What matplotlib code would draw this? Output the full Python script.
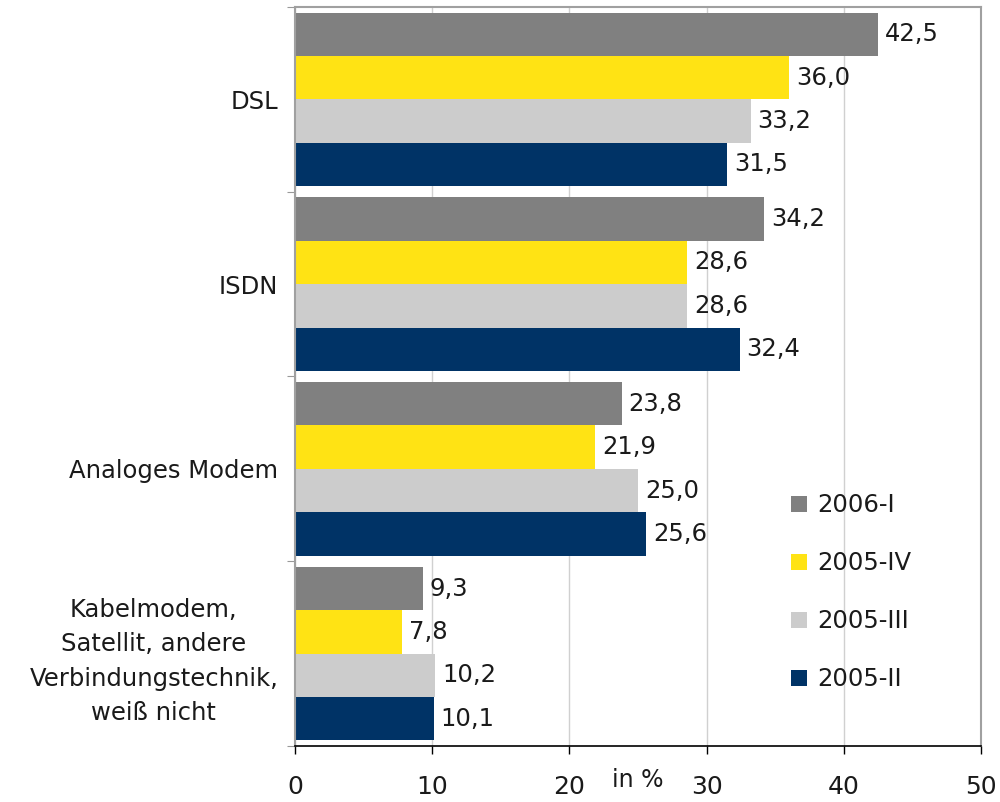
import matplotlib.pyplot as plt
import numpy as np

categories = ["DSL", "ISDN", "Analoges Modem",
              "Kabelmodem,\nSatellit, andere\nVerbindungstechnik,\nweiß nicht"]
series = ["2006-I", "2005-IV", "2005-III", "2005-II"]
v_2006_i = [42.5, 34.2, 23.8, 9.3]
v_2005_iv = [36.0, 28.6, 21.9, 7.8]
v_2005_iii = [33.2, 28.6, 25.0, 10.2]
v_2005_ii = [31.5, 32.4, 25.6, 10.1]
values = [v_2006_i, v_2005_iv, v_2005_iii, v_2005_ii]
colors = ["#808080", "#ffe314", "#cccccc", "#003366"]
xticks = [0, 10, 20, 30, 40, 50]

plt.rcParams['font.family'] = ['DejaVu Sans']
txt = "#1a1a1a"

fig = plt.figure(figsize=(10, 8.02), dpi=100)
ax = fig.add_axes([0.295, 0.0698, 0.686, 0.9215])

y = np.arange(len(categories))
h = 0.235
for i, (name, vals, c) in enumerate(zip(series, values, colors)):
    bars = ax.barh(y + (i - 1.5) * h, vals, height=h, color=c, label=name, zorder=2)
    ax.bar_label(bars, labels=[f"{v:.1f}".replace(".", ",") for v in vals],
                 padding=5, fontsize=17.5, color=txt)

ax.set_xlim(0, 50)
ax.set_ylim(3.5, -0.5)
ax.set_xticks(xticks)
ax.set_xticklabels([str(t) for t in xticks], fontsize=18, color=txt)
ax.tick_params(axis='x', length=6, width=1, color='black', pad=15)
ax.xaxis.grid(True, color='#d0d0d0', linewidth=1, zorder=0)

# category boundaries as major ticks, labels on minor ticks
ax.set_yticks(np.arange(-0.5, 4.0, 1.0))
ax.set_yticklabels([])
ax.set_yticks(y, minor=True)
ax.set_yticklabels(categories, minor=True, fontsize=17.5, color=txt,
                   multialignment='center', linespacing=1.55)
ax.tick_params(axis='y', which='major', length=6, color='#999999')
ax.tick_params(axis='y', which='minor', length=0, pad=12)

for s in ['top', 'left', 'right']:
    ax.spines[s].set_color('#a0a0a0')
    ax.spines[s].set_linewidth(1.5)
ax.spines['bottom'].set_color('black')
ax.spines['bottom'].set_linewidth(1.2)

ax.text(0.5, -0.03, "in %", transform=ax.transAxes, fontsize=17,
        color=txt, ha='center', va='top')

ax.legend(loc='upper left', bbox_to_anchor=(0.781, 0.397),
          bbox_transform=fig.transFigure, frameon=False, fontsize=17.5,
          handlelength=0.65, handleheight=0.65, handletextpad=0.45,
          labelspacing=1.4, borderaxespad=0, labelcolor=txt)

fig.savefig("out.png", dpi=100)
